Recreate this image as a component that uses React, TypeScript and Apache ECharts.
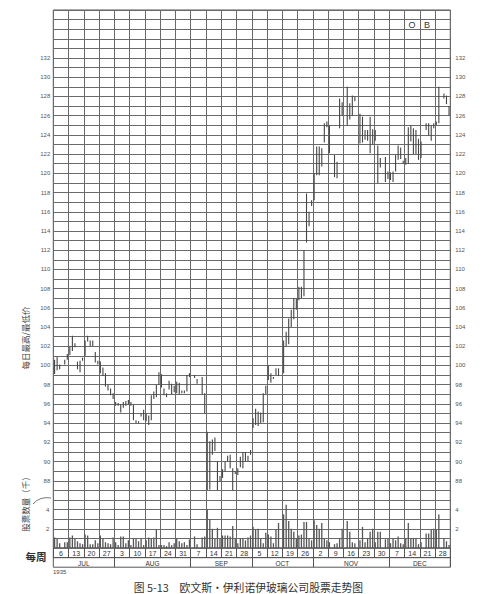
import React, { useEffect, useRef } from 'react';
import * as echarts from 'echarts';

// week-ending dates (Saturdays, 1935)
const weekLabels = ['6','13','20','27','3','10','17','24','31','7','14','21','28','5','12','19','26','2','9','16','23','30','7','14','21','28'];
const monthNames = ['JUL','AUG','SEP','OCT','NOV','DEC'];
const monthWeeks = [4, 5, 4, 4, 5, 4];
const priceLabels = [88,90,92,94,96,98,100,102,104,106,108,110,112,114,116,118,120,122,124,126,128,130,132];
const volumeLabels = [2, 4];

// daily highs (6 trading days per week, null = no trading)
const highs: (number | null)[] = [
  100.6, 100.9, 100.1, null, 100.6, 101.2,
  102.0, 103.1, 102.3, 100.4, 100.5, 100.8,
  102.6, 103.1, 102.6, 102.6, 101.4, 100.5,
  100.4, 99.8, 99.2, 98.0, 97.6, 97.1,
  96.2, 96.1, 96.0, 96.2, 96.3, 96.4,
  96.2, 95.9, 94.3, 94.2, 95.0, 95.4,
  95.0, 94.8, 96.9, 97.3, 98.0, 99.3,
  99.1, 97.6, 97.1, 98.4, 98.1, 97.9,
  98.3, 98.2, 97.4, 97.4, 99.0, 99.2,
  null, 99.0, 98.6, null, 98.8, 97.1,
  93.1, 92.1, 92.3, 92.5, 90.0, 88.5,
  89.2, 90.0, 90.6, 90.7, 89.3, 89.0,
  89.3, 90.5, 91.0, 91.0, 90.6, 91.2,
  94.5, 95.5, 95.2, 95.1, 97.1, 97.9,
  100.0, 99.2, 98.8, 99.7, 99.7, null,
  102.6, 103.5, 104.9, 105.8, 107.0, 107.0,
  108.2, 108.2, 112.0, 117.9, 116.0, 117.2,
  120.0, 122.8, 122.8, 122.6, 125.2, 125.4,
  125.0, null, 121.9, 121.2, 127.8, 127.4,
  null, 129.0, 127.3, 128.1, 128.0, null,
  126.2, 125.9, 124.5, 124.5, 125.9, 124.6,
  124.5, 122.9, 121.6, null, 121.7, 120.2,
  120.1, 120.2, 121.9, 122.9, 122.7, 121.3,
  121.6, 124.8, 125.0, 124.7, 124.5, 123.6,
  123.3, null, 125.2, 125.2, 125.0, 125.2,
  125.4, 129.0, null, 128.3, 128.1, 127.0,
];

// daily lows
const lows: (number | null)[] = [
  99.1, 99.5, 99.6, null, 100.1, 100.6,
  101.1, 101.5, 101.9, 99.6, 99.3, 100.5,
  101.0, 102.5, 102.0, 102.0, 100.3, 100.1,
  99.2, 98.9, 97.8, 97.4, 96.9, 96.5,
  95.8, 95.8, 95.1, 95.6, 95.8, 96.0,
  95.8, 94.3, 94.0, 94.0, 94.7, 94.3,
  94.2, 93.8, 94.3, 96.5, 96.7, 98.0,
  97.7, 96.9, 96.7, 97.5, 97.0, 97.2,
  97.1, 97.0, 97.1, 97.1, 97.3, 98.8,
  null, 98.7, 98.1, null, 97.0, 95.0,
  87.0, 87.1, 90.7, 91.1, 87.0, 87.9,
  88.3, 89.0, 90.0, 89.3, 87.0, 88.7,
  88.6, 89.4, 89.3, 90.0, 90.0, 90.7,
  93.5, 93.8, 93.7, 94.0, 94.1, 97.0,
  98.5, 98.2, 98.6, 99.0, 98.9, null,
  99.2, 102.0, 102.2, 104.0, 104.8, 105.8,
  106.8, 107.0, 107.2, 112.8, 114.5, 116.6,
  117.2, 119.8, 119.8, 120.7, 123.2, 124.8,
  122.1, null, 119.6, 119.5, 124.7, 126.0,
  null, 125.0, 125.6, 126.0, 127.5, null,
  123.1, 123.2, 123.5, 123.4, 122.1, 123.0,
  123.4, 119.0, 120.6, null, 119.1, 119.4,
  119.3, 119.1, 120.2, 121.4, 121.5, 121.0,
  120.9, 121.0, 123.3, 122.0, 122.0, 121.4,
  121.6, null, 124.5, 123.9, 123.4, 124.7,
  125.0, 125.2, null, 127.8, 127.2, 126.0,
];

// daily volume, thousands of shares
const volumes: (number | null)[] = [
  1.1, 1.0, 0.5, null, 0.6, 0.6,
  1.1, 1.3, 1.0, 0.7, 0.5, 0.4,
  1.4, 1.3, 0.4, 0.4, 0.8, 0.5,
  1.3, 1.0, 0.6, 0.5, 0.4, 1.1,
  0.6, 0.3, 1.2, 1.2, 0.5, 0.8,
  0.3, 1.0, 1.0, 0.7, 1.0, 0.3,
  0.8, 1.1, 1.0, 1.1, 1.9, 0.3,
  0.3, 0.3, 0.2, 0.6, 0.3, 0.5,
  1.0, 0.7, 0.5, 0.6, 0.3, 0.9,
  null, 1.2, 0.4, null, 1.1, 1.2,
  4.0, 3.0, 2.0, 1.0, 2.1, 1.0,
  1.3, 1.3, 1.3, 1.2, 2.3, 1.0,
  0.5, 1.0, 1.0, 0.8, 1.1, 1.3,
  2.2, 1.9, 2.0, 1.0, 0.5, 1.6,
  1.4, 1.2, 0.5, 1.9, 2.6, null,
  3.5, 4.5, 2.8, 2.0, 1.7, 1.0,
  1.3, 1.4, 2.7, 2.7, 1.0, 0.8,
  2.9, 2.4, 2.0, 2.6, 1.0, 0.8,
  0.6, null, 0.4, 0.5, 1.0, 2.0,
  null, 2.8, 1.7, 0.6, 0.5, null,
  0.8, 2.2, 0.6, 1.0, 1.7, 2.0,
  0.6, 1.7, 1.7, null, 0.9, 1.0,
  0.5, 1.0, 0.8, 1.2, 0.5, 0.4,
  1.0, 2.6, 1.0, 1.0, 1.0, 0.4,
  0.6, null, 1.5, 1.5, 1.9, 2.0,
  1.9, 3.5, null, 1.0, 0.7, 0.3,
];

const DAYS = 6;
const totalDays = weekLabels.length * DAYS;

export default function App() {
  const ref = useRef<HTMLDivElement>(null);
  useEffect(() => {
    if (!ref.current) return;
    const chart = echarts.init(ref.current, undefined, { renderer: 'svg' });

    const hlData: number[][] = [];
    highs.forEach((h, i) => {
      const l = lows[i];
      if (h != null && l != null) hlData.push([i + 0.5, l, h]);
    });
    const volData: number[][] = [];
    volumes.forEach((v, i) => {
      if (v != null) volData.push([i + 0.5, v]);
    });

    // month row: slot labels and boundaries
    const monthSlots: string[] = new Array(totalDays).fill('');
    const monthBounds: number[] = [];
    let start = 0;
    monthWeeks.forEach((w, k) => {
      const s = start * DAYS;
      const e = (start + w) * DAYS;
      monthSlots[Math.round((s + e) / 2)] = monthNames[k];
      if (start > 0) monthBounds.push(s);
      start += w;
    });

    const L = 53.3, T = 10, W = 397, H = 538, ROW = 9.6;
    const gridColor = '#6a6a6a';
    const numFont = 'Liberation Sans, Arial, sans-serif';
    const cjk = '"Noto Sans CJK SC", sans-serif';

    const priceAxis = (pos: 'left' | 'right', split: boolean) => ({
      gridIndex: 0, type: 'value', min: 81, max: 137, interval: 1, position: pos,
      axisLine: { show: false }, axisTick: { show: false },
      splitLine: { show: split, lineStyle: { color: gridColor, width: 1 } },
      axisLabel: {
        fontSize: 6, color: '#555', fontFamily: numFont, margin: pos === 'left' ? 3 : 5,
        formatter: (v: number) => (priceLabels.includes(Math.round(v)) ? String(Math.round(v)) : ''),
      },
    });
    const volAxis = (pos: 'left' | 'right') => ({
      gridIndex: 0, type: 'value', min: 0, max: 56, interval: 1, position: pos,
      axisLine: { show: false }, axisTick: { show: false }, splitLine: { show: false },
      axisLabel: {
        fontSize: 6, color: '#555', fontFamily: numFont, margin: pos === 'left' ? 4 : 5,
        formatter: (v: number) => (volumeLabels.includes(Math.round(v)) ? String(Math.round(v)) : ''),
      },
    });

    chart.setOption({
      animation: false,
      backgroundColor: '#fff',
      textStyle: { fontFamily: numFont },
      grid: [
        { left: L, top: T, width: W, height: H, show: true, borderColor: '#555', borderWidth: 1, backgroundColor: 'transparent' },
        { left: L, top: T + H, width: W, height: ROW, show: true, borderColor: '#555', borderWidth: 1, backgroundColor: 'transparent' },
        { left: L, top: T + H + ROW, width: W, height: ROW, show: true, borderColor: '#555', borderWidth: 1, backgroundColor: 'transparent' },
      ],
      xAxis: [
        {
          gridIndex: 0, type: 'value', min: 0, max: totalDays, interval: DAYS,
          axisLine: { show: false }, axisTick: { show: false }, axisLabel: { show: false },
          splitLine: { show: true, lineStyle: { color: gridColor, width: 1 } },
        },
        {
          gridIndex: 1, type: 'category', data: weekLabels, position: 'top',
          axisLine: { show: false }, axisTick: { show: false },
          splitLine: { show: true, interval: 0, lineStyle: { color: '#555', width: 1 } },
          axisLabel: { inside: true, interval: 0, margin: 1.6, fontSize: 7, color: '#333', fontFamily: numFont },
        },
        {
          gridIndex: 2, type: 'category', data: monthSlots, position: 'top',
          axisLine: { show: false }, axisTick: { show: false },
          splitLine: {
            show: true,
            interval: (i: number) => monthBounds.includes(i),
            lineStyle: { color: '#555', width: 1 },
          },
          axisLabel: {
            inside: true, interval: 0, margin: 2, fontSize: 6.5, color: '#333', fontFamily: numFont,
            padding: [0, W / totalDays, 0, 0],
          },
        },
      ],
      yAxis: [
        priceAxis('left', true),
        priceAxis('right', false),
        volAxis('left'),
        volAxis('right'),
        { gridIndex: 1, type: 'value', show: false },
        { gridIndex: 2, type: 'value', show: false },
      ],
      series: [
        {
          type: 'custom',
          xAxisIndex: 0, yAxisIndex: 0,
          data: hlData,
          encode: { x: 0, y: [1, 2] },
          renderItem: (params: any, api: any) => {
            const x = api.value(0), lo = api.value(1), hi = api.value(2);
            const a = api.coord([x, hi]);
            const b = api.coord([x, lo]);
            let y1 = a[1], y2 = b[1];
            if (y2 - y1 < 1.5) { const m = (y1 + y2) / 2; y1 = m - 0.75; y2 = m + 0.75; }
            return {
              type: 'line',
              shape: { x1: a[0], y1, x2: a[0], y2 },
              style: { stroke: '#444', lineWidth: 1.1 },
            };
          },
        },
        {
          type: 'bar',
          xAxisIndex: 0, yAxisIndex: 2,
          data: volData,
          barWidth: 1.3,
          itemStyle: { color: '#555' },
        },
      ],
      graphic: [
        { type: 'text', x: 25, y: 338, rotation: Math.PI / 2, style: { text: '每日最高/最低价', fontSize: 8.5, fontFamily: cjk, fill: '#444', align: 'center', verticalAlign: 'middle' } },
        { type: 'text', x: 25, y: 502, rotation: Math.PI / 2, style: { text: '股票数量（千）', fontSize: 8.5, fontFamily: cjk, fill: '#444', align: 'center', verticalAlign: 'middle' } },
        { type: 'bezierCurve', shape: { x1: 33, y1: 504, cpx1: 40, cpy1: 496, x2: 51, y2: 498 }, style: { stroke: '#555', lineWidth: 0.8, fill: null } },
        { type: 'text', x: 36, y: 556, style: { text: '每周', fontSize: 10.5, fontFamily: cjk, fontWeight: 'bold', fill: '#333', align: 'center', verticalAlign: 'middle' } },
        { type: 'text', x: 53, y: 572, style: { text: '1935', fontSize: 6, fontFamily: numFont, fill: '#444', align: 'left', verticalAlign: 'middle' } },
        { type: 'text', x: 412, y: 25, style: { text: 'O', fontSize: 9, fontFamily: numFont, fill: '#333', align: 'center', verticalAlign: 'middle' } },
        { type: 'text', x: 427, y: 25, style: { text: 'B', fontSize: 9, fontFamily: numFont, fill: '#333', align: 'center', verticalAlign: 'middle' } },
        { type: 'text', x: 248.5, y: 587, style: { text: '图 5-13　欧文斯·伊利诺伊玻璃公司股票走势图', fontSize: 10.8, fontFamily: cjk, fill: '#333', align: 'center', verticalAlign: 'middle' } },
      ],
    });
    return () => chart.dispose();
  }, []);
  return (
    <div
      ref={ref}
      style={{ position: 'fixed', left: 0, top: 0, width: 483, height: 594, background: '#fff' }}
    />
  );
}
